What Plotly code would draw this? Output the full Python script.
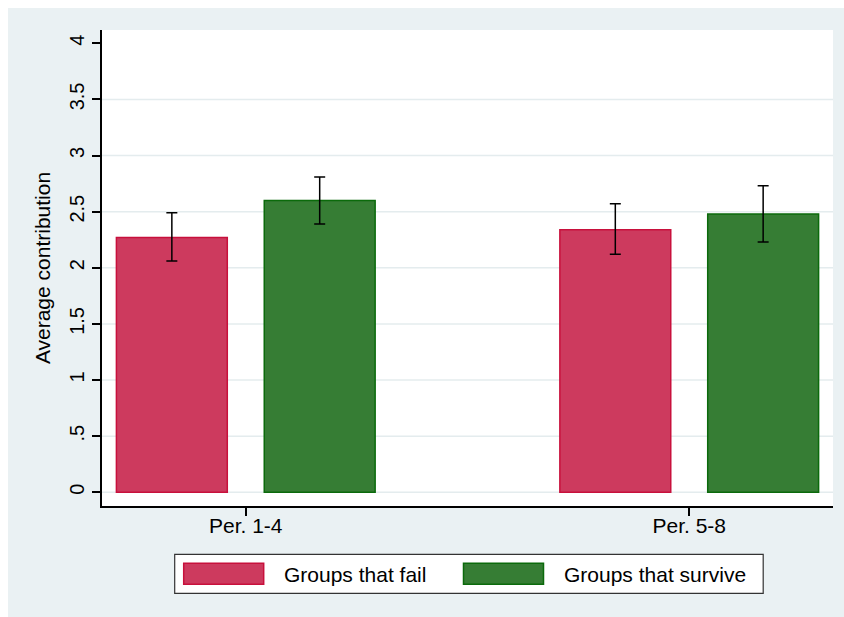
import plotly.graph_objects as go

# ---- data ----
categories = ["Per. 1-4", "Per. 5-8"]
fail_mean = [2.27, 2.34]
fail_lo = [2.06, 2.12]
fail_hi = [2.49, 2.57]
surv_mean = [2.60, 2.48]
surv_lo = [2.39, 2.23]
surv_hi = [2.81, 2.73]
series_names = ["Groups that fail", "Groups that survive"]
y_tickvals = [0, 0.5, 1, 1.5, 2, 2.5, 3, 3.5, 4]
y_ticktext = ["0", ".5", "1", "1.5", "2", "2.5", "3", "3.5", "4"]
grid_vals = [0, 0.5, 1, 1.5, 2, 2.5, 3, 3.5]

# ---- styles ----
W, H = 844, 617
L, R, T, B = 102, 11, 30, 111
PW, PH = W - L - R, H - T - B
BG = "#EAF1F3"
RED_FILL, RED_LINE = "#CD3A5E", "#C8103C"
GRN_FILL, GRN_LINE = "#367D34", "#0B6A0B"
FONT = "Liberation Sans, Arial, sans-serif"

def px(x):  # window pixel -> paper x
    return (x - L) / PW

def py(y):  # window pixel -> paper y
    return (H - B - y) / PH

def err(mean, lo, hi):
    return dict(type="data", symmetric=False,
                array=[h - m for m, h in zip(mean, hi)],
                arrayminus=[m - l for m, l in zip(mean, lo)],
                color="black", thickness=1.5, width=5.5)

fig = go.Figure()
fig.add_trace(go.Bar(x=categories, y=fail_mean, name=series_names[0],
                     marker=dict(color=RED_FILL, line=dict(color=RED_LINE, width=1.5)),
                     error_y=err(fail_mean, fail_lo, fail_hi), showlegend=False))
fig.add_trace(go.Bar(x=categories, y=surv_mean, name=series_names[1],
                     marker=dict(color=GRN_FILL, line=dict(color=GRN_LINE, width=1.5)),
                     error_y=err(surv_mean, surv_lo, surv_hi), showlegend=False))

shapes = []
for g in grid_vals:
    shapes.append(dict(type="line", xref="paper", yref="y", x0=0, x1=1, y0=g, y1=g,
                       line=dict(color="#E4ECEE", width=1.5), layer="below"))
# white strips along the top and left edges of the image
shapes.append(dict(type="rect", xref="paper", yref="paper", x0=px(0), x1=px(W), y0=py(8), y1=py(0),
                   fillcolor="white", line=dict(width=0), layer="below"))
shapes.append(dict(type="rect", xref="paper", yref="paper", x0=px(0), x1=px(8), y0=py(H), y1=py(0),
                   fillcolor="white", line=dict(width=0), layer="below"))
# legend box
shapes.append(dict(type="rect", xref="paper", yref="paper", x0=px(174.7), x1=px(763.2),
                   y0=py(593.3), y1=py(554.3), fillcolor="white",
                   line=dict(color="#333333", width=1.2)))
shapes.append(dict(type="rect", xref="paper", yref="paper", x0=px(183.7), x1=px(263.7),
                   y0=py(584.3), y1=py(563.3), fillcolor=RED_FILL,
                   line=dict(color=RED_LINE, width=1.5)))
shapes.append(dict(type="rect", xref="paper", yref="paper", x0=px(463.5), x1=px(543.5),
                   y0=py(584.3), y1=py(563.3), fillcolor=GRN_FILL,
                   line=dict(color=GRN_LINE, width=1.5)))

annotations = [
    dict(text=series_names[0], xref="paper", yref="paper", x=px(281.5), y=py(574),
         xanchor="left", yanchor="middle", showarrow=False,
         font=dict(family=FONT, size=21, color="black")),
    dict(text=series_names[1], xref="paper", yref="paper", x=px(561.5), y=py(574),
         xanchor="left", yanchor="middle", showarrow=False,
         font=dict(family=FONT, size=21, color="black")),
]

fig.update_layout(
    width=W, height=H,
    margin=dict(l=L, r=R, t=T, b=B, autoexpand=False),
    paper_bgcolor=BG, plot_bgcolor="white",
    barmode="group", bargap=0.3332, bargroupgap=0.25,
    font=dict(family=FONT, size=21, color="black"),
    shapes=shapes, annotations=annotations,
    xaxis=dict(range=[-0.3242, 1.3242], showline=True, linecolor="black", linewidth=1.5,
               ticks="outside", ticklen=8, tickwidth=1.5, tickcolor="black",
               showgrid=False, zeroline=False, tickfont=dict(size=21),
               ticklabelstandoff=-8),
    yaxis=dict(range=[-0.122, 4.1185], tickvals=y_tickvals, ticktext=y_ticktext,
               tickangle=-90, showline=True, linecolor="black", linewidth=1.5,
               ticks="outside", ticklen=8, tickwidth=1.5, tickcolor="black",
               showgrid=False, zeroline=False, tickfont=dict(size=20),
               title=dict(text="Average contribution", font=dict(size=21), standoff=10)),
)

fig.write_html("out.html", config={"displayModeBar": False},
               post_script="document.body.style.margin='0';document.body.style.overflow='hidden';")
